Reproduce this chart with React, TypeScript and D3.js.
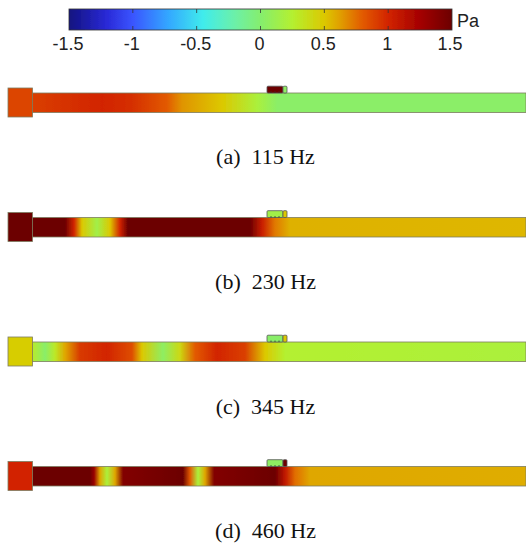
import React from 'react';
import * as d3 from 'd3';

const width = 526;
const height = 547;

// colour bar
const barTicks = [-1.5, -1, -0.5, 0, 0.5, 1, 1.5];
const barColors = ['#12127f', '#2a2ad8', '#3a55ff', '#33a8ff', '#40ecec', '#6cf0a8', '#85ee6e', '#b4f030', '#dcc800', '#e0a000', '#e25a00', '#d22400', '#a40000', '#6c0000'];
const barStops = [-1.5, -1.2, -1, -0.72, -0.45, -0.2, 0, 0.25, 0.5, 0.62, 0.8, 1, 1.25, 1.5];

// axial position along the duct (mm) and pressure (Pa) for each frequency
const posA = [0, 40, 70, 100, 135, 150, 190, 225, 245, 494];
const valA = [0.9, 0.96, 1.0, 0.96, 0.8, 0.65, 0.5, 0.2, 0.03, 0.03];
const posB = [0, 33, 42, 50, 65, 78, 88, 96, 218, 230, 243, 258, 494];
const valB = [1.5, 1.5, 1.0, 0.5, 0.15, 0.5, 1.0, 1.5, 1.5, 1.05, 0.72, 0.57, 0.55];
const posC = [0, 13, 23, 33, 48, 75, 100, 110, 131, 148, 163, 185, 213, 233, 253, 494];
const valC = [0.28, 0.02, 0.3, 0.6, 0.92, 1.0, 0.85, 0.5, 0.05, 0.4, 0.8, 1.0, 0.9, 0.5, 0.25, 0.2];
const posD = [0, 58, 62, 68, 75, 83, 91, 151, 158, 166, 173, 182, 243, 253, 263, 278, 494];
const valD = [1.5, 1.5, 1.3, 0.6, 0.2, 0.6, 1.4, 1.5, 0.8, 0.2, 0.6, 1.4, 1.5, 1.1, 0.75, 0.6, 0.58];

const chamberValues = [0.88, 1.5, 0.47, 1.0];
const cavityValues = [1.5, 0.15, 0.02, 0.05];
const tabValues = [0.05, 0.5, 0.5, 1.5];
const captions = ['(a)  115 Hz', '(b)  230 Hz', '(c)  345 Hz', '(d)  460 Hz'];
const positions = [posA, posB, posC, posD];
const pressures = [valA, valB, valC, valD];

// layout
const ductTops = [93, 217.5, 342, 466.5];
const captionBase = [164, 289, 414, 538];
const ductH = 19.5;
const edge = '#7d7d5f';

const color = d3.scaleLinear<string>().domain(barStops).range(barColors).clamp(true);
const barX = d3.scaleLinear().domain([-1.5, 1.5]).range([69, 452]);
const ductX = d3.scaleLinear().domain([0, 494]).range([32, 526]);

export default function App() {
  return (
    <svg width={width} height={height} style={{ position: 'absolute', left: 0, top: 0 }}>
      <defs>
        <filter id="soft" x="-5%" y="-20%" width="110%" height="140%">
          <feGaussianBlur stdDeviation="0.45" />
        </filter>
        <linearGradient id="bar">
          {barStops.map((s, i) => (
            <stop key={i} offset={(s + 1.5) / 3} stopColor={barColors[i]} />
          ))}
        </linearGradient>
        {positions.map((pos, k) => (
          <linearGradient key={k} id={`duct${k}`}>
            {pos.map((p, i) => (
              <stop key={i} offset={p / 494} stopColor={color(pressures[k][i])} />
            ))}
          </linearGradient>
        ))}
      </defs>

      <g filter="url(#soft)">
        <rect x={barX(-1.5)} y={9} width={barX(1.5) - barX(-1.5)} height={21} fill="url(#bar)" stroke="#333" strokeWidth={0.8} />
        {barTicks.slice(1, -1).map(t => (
          <g key={t} stroke="#333" strokeWidth={0.8}>
            <line x1={barX(t)} x2={barX(t)} y1={9} y2={13} />
            <line x1={barX(t)} x2={barX(t)} y1={26} y2={30} />
          </g>
        ))}
        {ductTops.map((top, k) => (
          <g key={k} stroke={edge} strokeWidth={0.8}>
            <rect x={ductX(0)} y={top} width={494} height={ductH} fill={`url(#duct${k})`} />
            <rect x={8} y={top - 5} width={24.5} height={29} fill={color(chamberValues[k])} />
            <rect x={267} y={top - 6.8} width={16} height={6.8} rx={1} fill={color(cavityValues[k])} stroke="#555" />
            <rect x={283} y={top - 6.8} width={4} height={6.8} rx={1} fill={color(tabValues[k])} stroke="#555" />
            {[271, 275, 279].map(x => (
              <line key={x} x1={x} x2={x} y1={top - 1.5} y2={top} stroke="#333" />
            ))}
          </g>
        ))}
      </g>

      {barTicks.map(t => (
        <text key={t} x={barX(t) - (t === 1.5 ? 2 : 1)} y={49.5} textAnchor="middle" fontFamily="Liberation Sans" fontSize={18} fill="#222">
          {t}
        </text>
      ))}
      <text x={457} y={27} fontFamily="Liberation Sans" fontSize={18} fill="#222">Pa</text>

      {captions.map((c, k) => (
        <text key={c} x={265.5} y={captionBase[k]} textAnchor="middle" fontFamily="Liberation Serif" fontSize={22} fill="#111" style={{ whiteSpace: 'pre' }}>
          {c}
        </text>
      ))}
    </svg>
  );
}
